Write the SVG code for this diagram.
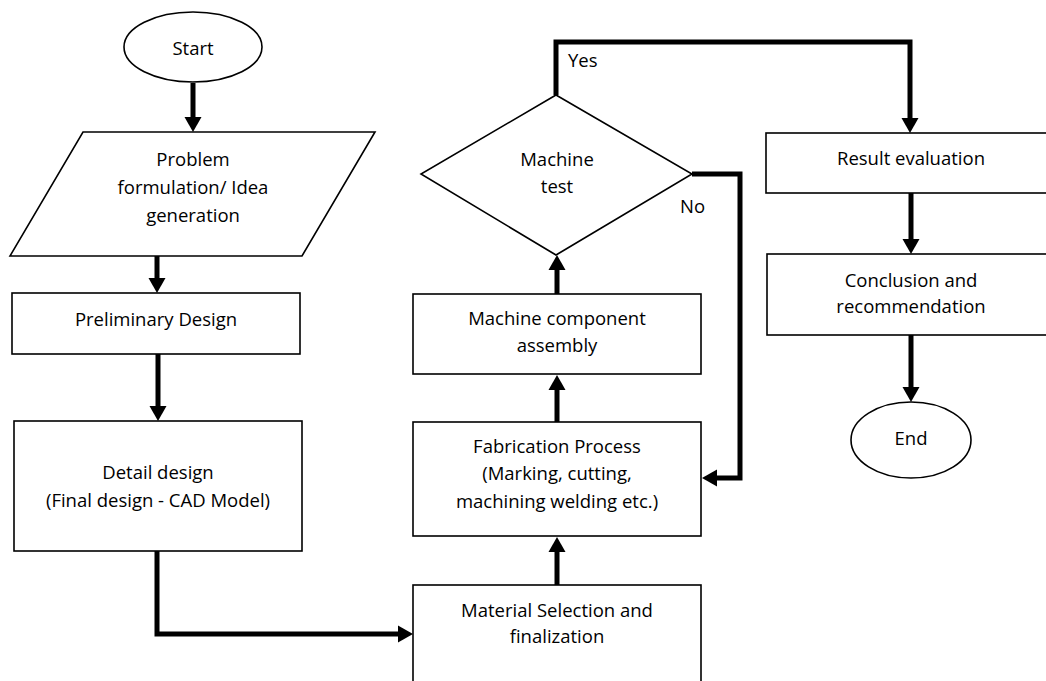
<svg xmlns="http://www.w3.org/2000/svg" width="1046" height="681" viewBox="0 0 1046 681">
<style>
.shape{fill:#fff;stroke:#000;stroke-width:1.6}
.conn{fill:none;stroke:#000;stroke-width:5;stroke-linejoin:miter}
text{font-family:"Open Sans","Liberation Sans",sans-serif;font-size:18.5px;fill:#000;text-anchor:middle}
.lbl{text-anchor:start}
</style>
<defs>
<marker id="ah" markerUnits="userSpaceOnUse" markerWidth="15" markerHeight="17" refX="0" refY="8.5" orient="auto" overflow="visible">
<path d="M0,0 L15,8.5 L0,17 z" fill="#000"/>
</marker>
</defs>
<rect width="1046" height="681" fill="#fff"/>
<g id="start"><ellipse class="shape" cx="193" cy="47" rx="69" ry="35"/><text x="193" y="55">Start</text></g>
<g id="problem"><polygon class="shape" points="83,132 375,132 302,256 10,256"/><text x="193" y="166">Problem</text><text x="193" y="194">formulation/ Idea</text><text x="193" y="222">generation</text></g>
<g id="prelim"><rect class="shape" x="12" y="293" width="288" height="61"/><text x="156" y="326">Preliminary Design</text></g>
<g id="detail"><rect class="shape" x="14" y="421" width="288" height="130"/><text x="158" y="479">Detail design</text><text x="158" y="507">(Final design - CAD Model)</text></g>
<g id="material"><rect class="shape" x="413" y="585" width="288" height="110"/><text x="557" y="617">Material Selection and</text><text x="557" y="643">finalization</text></g>
<g id="fab"><rect class="shape" x="413" y="422" width="288" height="114"/><text x="557" y="453">Fabrication Process</text><text x="557" y="480">(Marking, cutting,</text><text x="557" y="508">machining welding etc.)</text></g>
<g id="assembly"><rect class="shape" x="413" y="294" width="288" height="80"/><text x="557" y="325">Machine component</text><text x="557" y="352">assembly</text></g>
<g id="test"><polygon class="shape" points="556,95 692,174 556,255 421,174"/><text x="557" y="166">Machine</text><text x="557" y="193">test</text></g>
<g id="result"><rect class="shape" x="766" y="133" width="300" height="60"/><text x="911" y="165">Result evaluation</text></g>
<g id="conclusion"><rect class="shape" x="767" y="254" width="300" height="81"/><text x="911" y="287">Conclusion and</text><text x="911" y="313">recommendation</text></g>
<g id="end"><ellipse class="shape" cx="911" cy="440" rx="60" ry="38"/><text x="911" y="445">End</text></g>
<g id="connectors">
<path class="conn" d="M193,83 V117" marker-end="url(#ah)"/>
<path class="conn" d="M157,256 V278" marker-end="url(#ah)"/>
<path class="conn" d="M158,354 V406" marker-end="url(#ah)"/>
<path class="conn" d="M157,551 V634 H398" marker-end="url(#ah)"/>
<path class="conn" d="M557,585 V552" marker-end="url(#ah)"/>
<path class="conn" d="M557,422 V390" marker-end="url(#ah)"/>
<path class="conn" d="M557,294 V270" marker-end="url(#ah)"/>
<path class="conn" d="M556,95 V42 H910 V118" marker-end="url(#ah)"/>
<path class="conn" d="M692,174 H740 V478 H717" marker-end="url(#ah)"/>
<path class="conn" d="M911,193 V239" marker-end="url(#ah)"/>
<path class="conn" d="M911,335 V387" marker-end="url(#ah)"/>
<text class="lbl" x="568" y="67">Yes</text>
<text class="lbl" x="680" y="213">No</text>
</g>
</svg>
